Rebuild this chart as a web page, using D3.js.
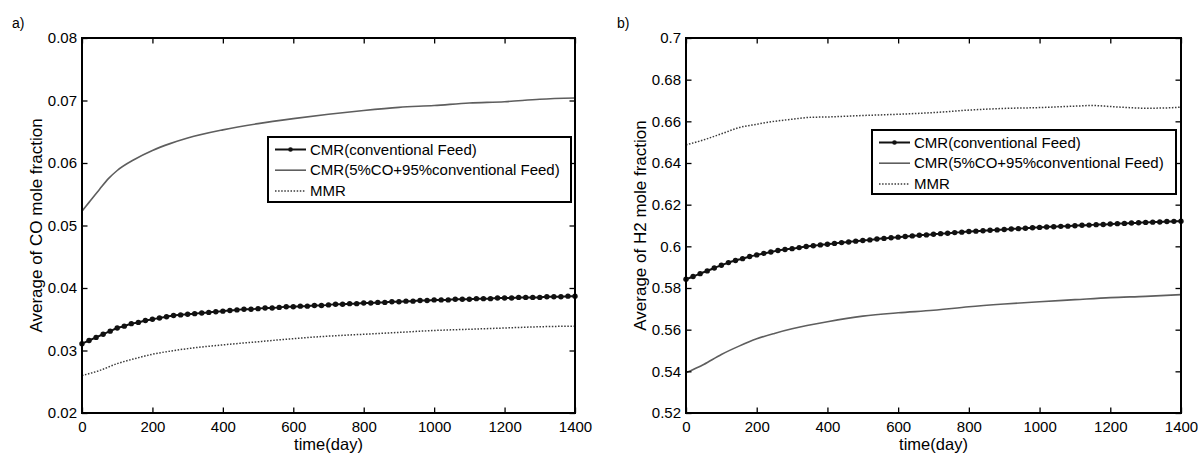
<!DOCTYPE html>
<html><head><meta charset="utf-8">
<script src="https://cdn.jsdelivr.net/npm/d3@7"></script>
<style>
body{margin:0;background:#fff}
svg{display:block}
text{font-family:"Liberation Sans",Arial,Helvetica,sans-serif;fill:#000}
</style>
</head><body>
<svg id="c" width="1198" height="454"></svg>
<script>
// ---------- data ----------
const xTicks = [0, 200, 400, 600, 800, 1000, 1200, 1400];
const xTickLabels = ["0", "200", "400", "600", "800", "1000", "1200", "1400"];
const coYTicks = [0.02, 0.03, 0.04, 0.05, 0.06, 0.07, 0.08];
const coYTickLabels = ["0.02", "0.03", "0.04", "0.05", "0.06", "0.07", "0.08"];
const h2YTicks = [0.52, 0.54, 0.56, 0.58, 0.60, 0.62, 0.64, 0.66, 0.68, 0.70];
const h2YTickLabels = ["0.52", "0.54", "0.56", "0.58", "0.6", "0.62", "0.64", "0.66", "0.68", "0.7"];
const seriesNames = ["CMR(conventional Feed)", "CMR(5%CO+95%conventional Feed)", "MMR"];

// marker series sampled every 20 days (0..1400)
const markerDays = [0,20,40,60,80,100,120,140,160,180,200,220,240,260,280,300,320,340,360,380,400,420,440,460,480,500,520,540,560,580,600,620,640,660,680,700,720,740,760,780,800,820,840,860,880,900,920,940,960,980,1000,1020,1040,1060,1080,1100,1120,1140,1160,1180,1200,1220,1240,1260,1280,1300,1320,1340,1360,1380,1400];

// panel a) CO mole fraction
const coConv = [0.0311,0.0316,0.0321,0.0326,0.0331,0.0336,0.0339,0.0343,0.0345,0.0348,0.0350,0.0352,0.0354,0.0356,0.0357,0.0358,0.0359,0.0360,0.0361,0.0362,0.0363,0.0364,0.0365,0.0366,0.0366,0.0367,0.0368,0.0368,0.0369,0.0370,0.0370,0.0371,0.0371,0.0372,0.0372,0.0373,0.0374,0.0374,0.0375,0.0375,0.0376,0.0376,0.0377,0.0377,0.0378,0.0378,0.0379,0.0379,0.0380,0.0380,0.0381,0.0381,0.0381,0.0382,0.0382,0.0382,0.0383,0.0383,0.0383,0.0384,0.0384,0.0384,0.0385,0.0385,0.0385,0.0385,0.0386,0.0386,0.0386,0.0387,0.0387];
const coCO5Days = [0,20,50,75,100,150,200,250,300,400,500,600,700,800,900,1000,1100,1200,1300,1400];
const coCO5 = [0.0523,0.0537,0.0558,0.0575,0.0588,0.0606,0.0620,0.0631,0.0640,0.0653,0.0663,0.0671,0.0678,0.0684,0.0689,0.0692,0.0696,0.0698,0.0702,0.0704];
const coMMRDays = [0,50,100,150,200,250,300,400,500,600,700,800,900,1000,1100,1200,1300,1400];
const coMMR = [0.0260,0.0268,0.0279,0.0287,0.0294,0.0299,0.0303,0.0309,0.0314,0.0319,0.0323,0.0326,0.0329,0.0332,0.0334,0.0336,0.0338,0.0339];

// panel b) H2 mole fraction
const h2Conv = [0.5842,0.5855,0.5869,0.5882,0.5896,0.5909,0.5922,0.5932,0.5941,0.5951,0.5959,0.5966,0.5973,0.5980,0.5985,0.5989,0.5994,0.5999,0.6003,0.6007,0.6010,0.6014,0.6018,0.6021,0.6025,0.6028,0.6031,0.6035,0.6038,0.6041,0.6044,0.6047,0.6050,0.6053,0.6055,0.6058,0.6061,0.6063,0.6066,0.6068,0.6071,0.6073,0.6075,0.6077,0.6079,0.6081,0.6083,0.6085,0.6087,0.6089,0.6091,0.6093,0.6094,0.6096,0.6097,0.6099,0.6101,0.6102,0.6104,0.6105,0.6107,0.6109,0.6110,0.6112,0.6113,0.6115,0.6116,0.6117,0.6119,0.6120,0.6121];
const h2CO5Days = [0,50,100,150,200,250,300,400,500,600,700,800,900,1000,1100,1200,1300,1400];
const h2CO5 = [0.5393,0.5433,0.5481,0.5521,0.5556,0.5582,0.5604,0.5638,0.5665,0.5681,0.5693,0.5710,0.5723,0.5734,0.5744,0.5754,0.5760,0.5768];
const h2MMRDays = [0,50,100,150,200,250,300,350,400,500,600,700,800,900,1000,1100,1150,1200,1250,1300,1350,1400];
const h2MMR = [0.6487,0.6511,0.6540,0.6570,0.6586,0.6600,0.6610,0.6619,0.6621,0.6628,0.6634,0.6642,0.6654,0.6662,0.6666,0.6673,0.6676,0.6671,0.6666,0.6663,0.6664,0.6668];

// ---------- drawing ----------
const svg = d3.select("#c");
const zip = (xs, ys) => xs.map((d, i) => [d, ys[i]]);

const panels = [
  {tag: "a)", tagX: 12, left: 82, right: 575, yDomain: [0.02, 0.08], yTicks: coYTicks, yLabels: coYTickLabels,
   yTitle: "Average of CO mole fraction",
   conv: zip(markerDays, coConv), co5: zip(coCO5Days, coCO5), mmr: zip(coMMRDays, coMMR),
   legend: {x: 268, y: 137, w: 303, h: 65}},
  {tag: "b)", tagX: 617, left: 686, right: 1181, yDomain: [0.52, 0.70], yTicks: h2YTicks, yLabels: h2YTickLabels,
   yTitle: "Average of H2 mole fraction",
   conv: zip(markerDays, h2Conv), co5: zip(h2CO5Days, h2CO5), mmr: zip(h2MMRDays, h2MMR),
   legend: {x: 872, y: 130, w: 304, h: 64}}
];
const plotTop = 38, plotBottom = 413;

panels.forEach(p => {
  const x = d3.scaleLinear().domain([0, 1400]).range([p.left, p.right]);
  const y = d3.scaleLinear().domain(p.yDomain).range([plotBottom, plotTop]);
  const g = svg.append("g");

  // tag
  g.append("text").attr("x", p.tagX).attr("y", 28).attr("font-size", 14).text(p.tag);

  // series
  const line = d3.line().x(d => x(d[0])).y(d => y(d[1])).curve(d3.curveMonotoneX);
  g.append("path").datum(p.co5).attr("d", line).attr("fill", "none")
    .attr("stroke", "#5e5e5e").attr("stroke-width", 1.6);
  g.append("path").datum(p.mmr).attr("d", line).attr("fill", "none")
    .attr("stroke", "#3a3a3a").attr("stroke-width", 1.5).attr("stroke-dasharray", "1.5,1.6");
  g.append("path").datum(p.conv).attr("d", line).attr("fill", "none")
    .attr("stroke", "#111").attr("stroke-width", 2);
  g.selectAll("circle.m").data(p.conv).join("circle").attr("class", "m")
    .attr("cx", d => x(d[0])).attr("cy", d => y(d[1])).attr("r", 2.7).attr("fill", "#111");

  // axes (ticks inward)
  const ts = -5.5;
  const ax = g.append("g").attr("transform", `translate(0,${plotBottom})`)
    .call(d3.axisBottom(x).tickValues(xTicks).tickFormat((d, i) => xTickLabels[i]).tickSizeInner(ts).tickSizeOuter(0).tickPadding(8));
  const ay = g.append("g").attr("transform", `translate(${p.left},0)`)
    .call(d3.axisLeft(y).tickValues(p.yTicks).tickFormat((d, i) => p.yLabels[i]).tickSizeInner(ts).tickSizeOuter(0).tickPadding(5));
  const at = g.append("g").attr("transform", `translate(0,${plotTop})`)
    .call(d3.axisTop(x).tickValues(xTicks).tickFormat("").tickSizeInner(ts).tickSizeOuter(0));
  const ar = g.append("g").attr("transform", `translate(${p.right},0)`)
    .call(d3.axisRight(y).tickValues(p.yTicks).tickFormat("").tickSizeInner(ts).tickSizeOuter(0));
  [ax, ay, at, ar].forEach(a => {
    a.select(".domain").remove();
    a.selectAll(".tick line").attr("stroke", "#000").attr("stroke-width", 1.3);
    a.selectAll(".tick text").attr("font-size", 15).attr("font-family", "Liberation Sans, Arial, sans-serif").attr("fill", "#000");
  });

  // frame
  g.append("rect").attr("x", p.left).attr("y", plotTop).attr("width", p.right - p.left).attr("height", plotBottom - plotTop)
    .attr("fill", "none").attr("stroke", "#000").attr("stroke-width", 2);

  // titles
  g.append("text").attr("x", (p.left + p.right) / 2).attr("y", 450).attr("text-anchor", "middle")
    .attr("font-size", 16.5).text("time(day)");
  g.append("text").attr("transform", `translate(${p.left - 40},${(plotTop + plotBottom) / 2}) rotate(-90)`)
    .attr("text-anchor", "middle").attr("font-size", 17).text(p.yTitle);

  // legend
  const L = p.legend;
  const lg = g.append("g");
  lg.append("rect").attr("x", L.x).attr("y", L.y).attr("width", L.w).attr("height", L.h)
    .attr("fill", "#fff").attr("stroke", "#000").attr("stroke-width", 2);
  const rowH = 20.7, y0 = L.y + 12.5;
  const styles = [
    {stroke: "#111", w: 2, dash: null, marker: true},
    {stroke: "#5e5e5e", w: 1.6, dash: null, marker: false},
    {stroke: "#3a3a3a", w: 1.5, dash: "1.5,1.6", marker: false}
  ];
  seriesNames.forEach((name, i) => {
    const yy = y0 + i * rowH, s = styles[i];
    lg.append("line").attr("x1", L.x + 7).attr("x2", L.x + 38).attr("y1", yy).attr("y2", yy)
      .attr("stroke", s.stroke).attr("stroke-width", s.w).attr("stroke-dasharray", s.dash);
    if (s.marker) lg.append("circle").attr("cx", L.x + 22.5).attr("cy", yy).attr("r", 2.3).attr("fill", "#111");
    lg.append("text").attr("x", L.x + 42).attr("y", yy).attr("dy", "0.35em").attr("font-size", 15).text(name);
  });
});
</script>
</body></html>
